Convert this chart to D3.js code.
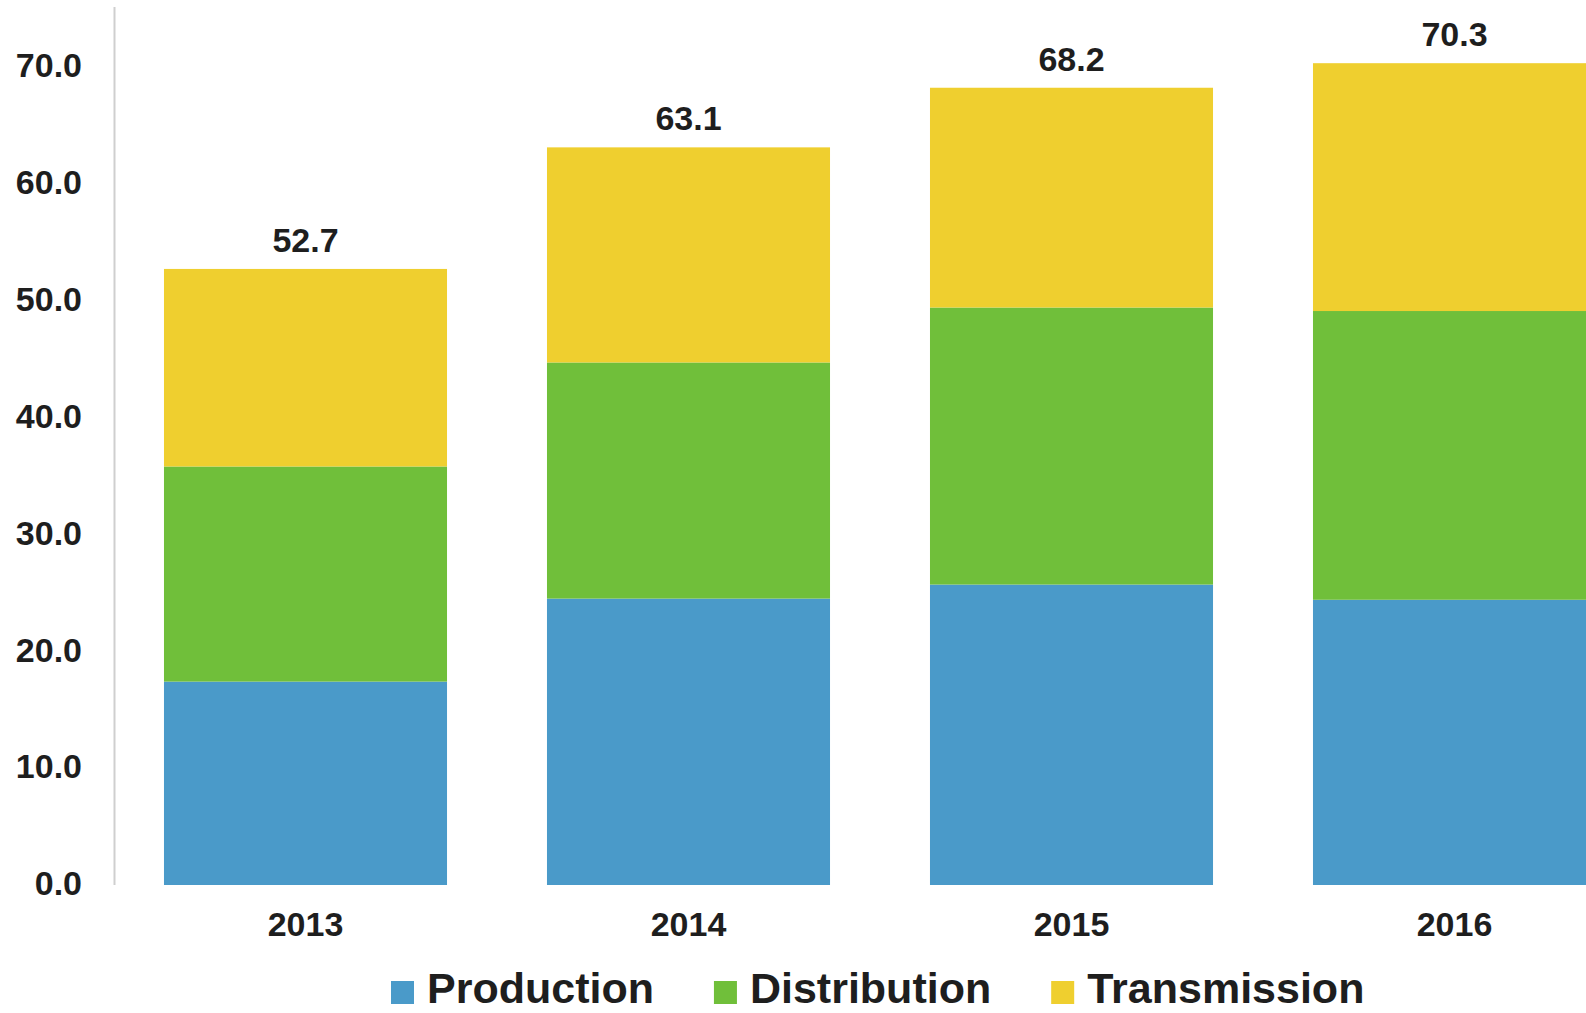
<!DOCTYPE html>
<html>
<head>
<meta charset="utf-8">
<script src="https://cdn.jsdelivr.net/npm/d3@7"></script>
<style>
  html, body { margin: 0; padding: 0; background: #fff; }
  svg { display: block; }
  text { font-family: "Liberation Sans", Arial, Helvetica, sans-serif; font-weight: bold; fill: #1e1e1e; }
</style>
</head>
<body>
<svg id="chart" width="1586" height="1013"></svg>
<script>
// ---- data ----
const categories = ["2013", "2014", "2015", "2016"];
const seriesNames = ["Production", "Distribution", "Transmission"];
const production   = [17.4, 24.5, 25.7, 24.4];
const distribution = [18.4, 20.2, 23.7, 24.7];
const transmission = [16.9, 18.4, 18.8, 21.2];
const totals = [52.7, 63.1, 68.2, 70.3];
const yTicks = [0, 10, 20, 30, 40, 50, 60, 70];
const colors = ["#4a9ac9", "#70bf3a", "#efcf2f"];

const rows = categories.map((c, i) => ({
  year: c,
  Production: production[i],
  Distribution: distribution[i],
  Transmission: transmission[i],
  total: totals[i]
}));

const svg = d3.select("#chart");

const x = d3.scaleBand()
  .domain(categories)
  .range([114, 1646])
  .paddingInner(0.261)
  .paddingOuter(0.1305);

const y = d3.scaleLinear()
  .domain([0, 75])
  .range([885, 885 - 75 * 11.69]);

const color = d3.scaleOrdinal().domain(seriesNames).range(colors);

// y axis
const yAxis = d3.axisLeft(y)
  .tickValues(yTicks)
  .tickFormat(d3.format(".1f"))
  .tickSize(0)
  .tickPadding(32);

const gy = svg.append("g")
  .attr("transform", "translate(114,-1)")
  .call(yAxis);
gy.select(".domain").remove();
gy.selectAll("text")
  .attr("font-size", 34)
  .attr("fill", "#1e1e1e")
  .style("font-family", '"Liberation Sans", Arial, sans-serif')
  .style("font-weight", "bold");

svg.append("line")
  .attr("x1", 114.5).attr("x2", 114.5)
  .attr("y1", 7).attr("y2", y(0))
  .attr("stroke", "#cfcfcf")
  .attr("stroke-width", 2);

// stacked bars
const stack = d3.stack().keys(seriesNames);
const stacked = stack(rows);

svg.append("g")
  .selectAll("g")
  .data(stacked)
  .join("g")
  .attr("fill", d => color(d.key))
  .selectAll("rect")
  .data(d => d)
  .join("rect")
  .attr("x", d => x(d.data.year))
  .attr("width", x.bandwidth())
  .attr("y", d => y(d[1]))
  .attr("height", d => y(d[0]) - y(d[1]));

// total labels
svg.append("g")
  .selectAll("text")
  .data(rows)
  .join("text")
  .attr("x", d => x(d.year) + x.bandwidth() / 2)
  .attr("y", d => y(d.total) - 17)
  .attr("text-anchor", "middle")
  .attr("font-size", 34)
  .text(d => d.total.toFixed(1));

// x axis labels
const xAxis = d3.axisBottom(x).tickSize(0).tickPadding(27);
const gx = svg.append("g")
  .attr("transform", `translate(0,${y(0)})`)
  .call(xAxis);
gx.select(".domain").remove();
gx.selectAll("text")
  .attr("font-size", 34)
  .attr("fill", "#1e1e1e")
  .style("font-family", '"Liberation Sans", Arial, sans-serif')
  .style("font-weight", "bold");

// legend
const legend = svg.append("g").attr("class", "legend");
let lx = 391;
seriesNames.forEach((name) => {
  const g = legend.append("g").attr("transform", `translate(${lx},0)`);
  g.append("rect")
    .attr("x", 0).attr("y", 981)
    .attr("width", 23).attr("height", 23)
    .attr("fill", color(name));
  const t = g.append("text")
    .attr("x", 36).attr("y", 1003)
    .attr("font-size", 43)
    .text(name);
  const w = t.node().getComputedTextLength();
  lx += 36 + w + 60;
});
</script>
</body>
</html>
